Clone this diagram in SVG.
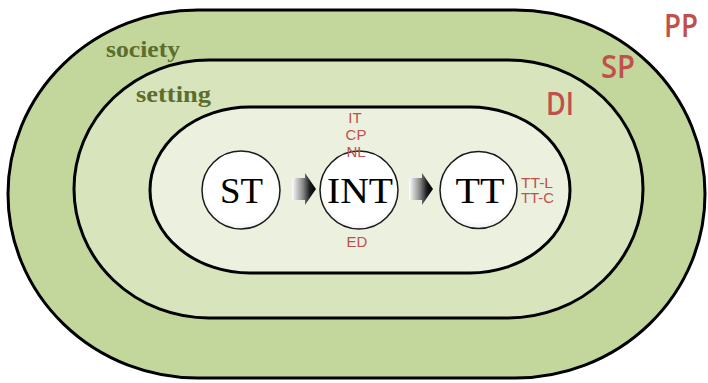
<svg xmlns="http://www.w3.org/2000/svg" width="708" height="383" viewBox="0 0 708 383">
  <style>
    .band { stroke: #000; stroke-width: 3; }
    .node circle { fill: url(#circFill); stroke: #1a1a1a; stroke-width: 1.5; }
    .node text.main { font-family: "Liberation Serif", "DejaVu Serif", serif; font-size: 35px; fill: #000; text-anchor: middle; }
    .lbl { font-family: "Liberation Sans", Arial, sans-serif; fill: #c0504d; }
    .small { font-size: 15px; }
    .tiny { font-size: 14px; }
    .big { font-family: "Open Sans", "Liberation Sans", sans-serif; font-weight: 600; font-size: 32px; }
    .ctx { font-family: "Liberation Serif", "DejaVu Serif", serif; font-weight: bold; font-size: 23px; fill: #5b6e2e; }
    .arrow { fill: url(#arrowGrad); }
  </style>
  <defs>
    <radialGradient id="circFill" cx="0.5" cy="0.45" r="0.55">
      <stop offset="0" stop-color="#ffffff"/>
      <stop offset="0.85" stop-color="#ffffff"/>
      <stop offset="1" stop-color="#f0f0f0"/>
    </radialGradient>
    <linearGradient id="arrowGrad" x1="0" y1="0" x2="1" y2="0">
      <stop offset="0" stop-color="#ffffff"/>
      <stop offset="0.45" stop-color="#8a8a8a"/>
      <stop offset="0.75" stop-color="#1a1a1a"/>
      <stop offset="1" stop-color="#000000"/>
    </linearGradient>
  </defs>

  <rect width="708" height="383" fill="#ffffff"/>

  <g id="society">
    <rect class="band" x="8" y="10" width="697" height="368" rx="190" ry="184" fill="#c3d69b"/>
    <text class="ctx" x="106" y="57" textLength="74" lengthAdjust="spacingAndGlyphs">society</text>
  </g>

  <g id="setting">
    <rect class="band" x="74" y="60" width="569" height="258" rx="135" ry="129" fill="#d7e4bc"/>
    <text class="ctx" x="136" y="102" textLength="75" lengthAdjust="spacingAndGlyphs">setting</text>
  </g>

  <g id="inner">
    <rect class="band" x="150" y="107" width="420" height="166" rx="100" ry="83" fill="#ebf1de"/>
  </g>

  <g id="labels-outer">
    <text class="lbl big" x="664" y="37" textLength="34" lengthAdjust="spacingAndGlyphs">PP</text>
    <text class="lbl big" x="601" y="78" textLength="34" lengthAdjust="spacingAndGlyphs">SP</text>
    <text class="lbl big" x="546" y="115" textLength="28" lengthAdjust="spacingAndGlyphs">DI</text>
  </g>

  <g id="connectors">
    <path class="arrow" d="M292,178 H305 V173 L316,189 L305,205 V200 H292 Z"/>
    <path class="arrow" d="M409,178 H422 V173 L433,189 L422,205 V200 H409 Z"/>
  </g>

  <g id="node-ST" class="node">
    <circle cx="241" cy="190" r="39"/>
    <text class="main" x="241.5" y="203" textLength="43" lengthAdjust="spacingAndGlyphs">ST</text>
  </g>

  <g id="node-INT" class="node">
    <circle cx="359" cy="190" r="39"/>
    <text class="main" x="360" y="203" textLength="66" lengthAdjust="spacingAndGlyphs">INT</text>
    <text class="lbl small" x="355" y="123" text-anchor="middle">IT</text>
    <text class="lbl small" x="356" y="140" text-anchor="middle">CP</text>
    <text class="lbl small" x="356" y="157" text-anchor="middle">NL</text>
    <text class="lbl small" x="357" y="247" text-anchor="middle">ED</text>
  </g>

  <g id="node-TT" class="node">
    <circle cx="478.5" cy="190" r="38.5"/>
    <text class="main" x="480" y="203" textLength="49" lengthAdjust="spacingAndGlyphs">TT</text>
    <text class="lbl tiny" x="521" y="188" textLength="32" lengthAdjust="spacingAndGlyphs">TT-L</text>
    <text class="lbl tiny" x="521" y="203" textLength="33" lengthAdjust="spacingAndGlyphs">TT-C</text>
  </g>
</svg>
